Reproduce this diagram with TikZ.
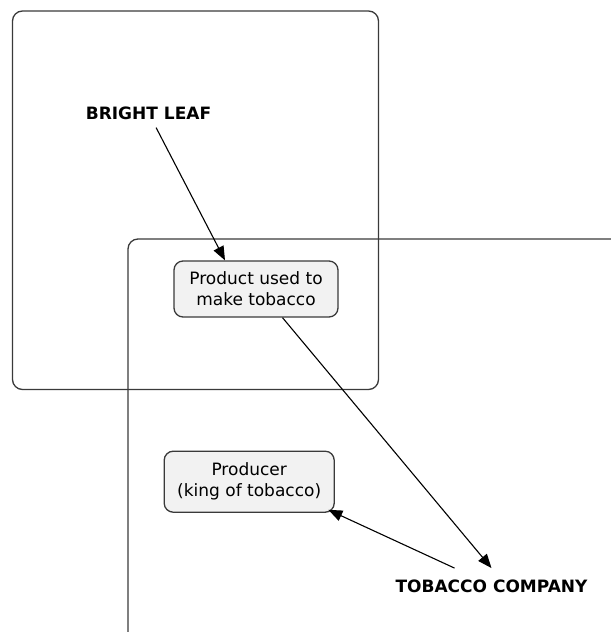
\documentclass[tikz,border=0pt]{standalone}
\usepackage{fontspec}
\setmainfont{DejaVu Sans}
\usetikzlibrary{arrows.meta}
\definecolor{edgegray}{HTML}{3A3A3A}
\definecolor{boxfill}{HTML}{F2F2F2}
\begin{document}
\begin{tikzpicture}[x=1bp, y=-1bp, >={Stealth[length=14bp,width=11bp,inset=0pt]},
    font=\fontsize{17bp}{21bp}\selectfont,
    region/.style={draw=edgegray, line width=1.3bp, rounded corners=10bp},
    concept/.style={draw=edgegray, fill=boxfill, line width=1.3bp, rounded corners=9bp, align=center, inner sep=0pt},
    title/.style={font=\fontsize{17bp}{21bp}\selectfont\bfseries, inner sep=8bp},
    link/.style={->, draw=black, line width=1.1bp}]
    \useasboundingbox (0,0) rectangle (611,632);
    \begin{scope}
        \clip (0,0) rectangle (611,632);
        \draw[region] (12.5,11) rectangle (378.5,389.5);
        \draw[region] (128,239) rectangle (650,645);
    \end{scope}
    \node[title] (leaf) at (148.5,113) {BRIGHT LEAF};
    \node[title, inner sep=12bp] (company) at (491.5,586.7) {TOBACCO COMPANY};
    \node[concept, minimum width=164bp, minimum height=56bp] (product) at (256,289) {Product used to\\make tobacco};
    \node[concept, minimum width=170bp, minimum height=61bp] (producer) at (249.2,481.7) {Producer\\(king of tobacco)};
    \draw[link] (leaf) -- ([xshift=-31bp]product.north);
    \draw[link] ([xshift=26.5bp]product.south) -- (company.north);
    \draw[link] ([xshift=-37bp]company.north) -- ([xshift=-6.5bp,yshift=3bp]producer.south east);
\end{tikzpicture}
\end{document}
